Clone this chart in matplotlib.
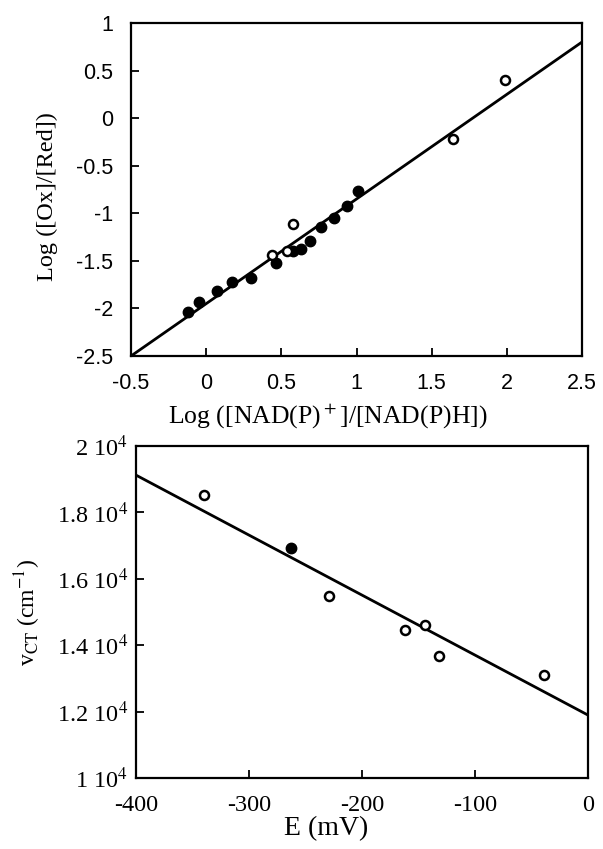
import matplotlib
matplotlib.use("Agg")
import matplotlib.pyplot as plt
import numpy as np

plt.rcParams['mathtext.fontset'] = 'stix'

# ---- Top panel data ----
top_filled_x = [-0.12, -0.045, 0.075, 0.17, 0.30, 0.465, 0.575, 0.63, 0.69, 0.765, 0.85, 0.935, 1.01]
top_filled_y = [-2.04, -1.93, -1.815, -1.725, -1.68, -1.52, -1.40, -1.38, -1.29, -1.14, -1.045, -0.925, -0.77]
top_open_x = [0.44, 0.535, 0.58, 1.645, 1.985]
top_open_y = [-1.435, -1.40, -1.11, -0.22, 0.40]
top_fit_slope = 1.1
top_fit_intercept = -1.95
top_xticks = [-0.5, 0, 0.5, 1, 1.5, 2, 2.5]
top_xticklabels = ['-0.5', '0', '0.5', '1', '1.5', '2', '2.5']
top_yticks = [-2.5, -2, -1.5, -1, -0.5, 0, 0.5, 1]
top_yticklabels = ['-2.5', '-2', '-1.5', '-1', '-0.5', '0', '0.5', '1']

# ---- Bottom panel data ----
bot_open_x = [-340, -229, -162, -144, -132, -39]
bot_open_y = [18510, 15470, 14460, 14600, 13670, 13090]
bot_filled_x = [-263]
bot_filled_y = [16920]
bot_fit_slope = -18.07
bot_fit_intercept = 11895
bot_xticks = [-400, -300, -200, -100, 0]
bot_xticklabels = ['-400', '-300', '-200', '-100', '0']
bot_yticks = [10000, 12000, 14000, 16000, 18000, 20000]
bot_yticklabels = [r'1 10$^4$', r'1.2 10$^4$', r'1.4 10$^4$', r'1.6 10$^4$', r'1.8 10$^4$', r'2 10$^4$']

fig = plt.figure(figsize=(6.03, 8.49), dpi=100)

serif = 'Liberation Serif'
sans = 'Liberation Sans'

def style(ax):
    for s in ax.spines.values():
        s.set_linewidth(1.6)
    ax.tick_params(direction='in', length=6, width=1.3, top=False, right=False)

# Top
ax1 = fig.add_axes([131/603, 1-356/849, (582-131)/603, (356-23)/849])
xl = np.array([-0.5, 2.5])
ax1.plot(xl, top_fit_slope*xl + top_fit_intercept, color='black', lw=2.0, zorder=2)
ax1.plot(top_filled_x, top_filled_y, 'o', color='black', ms=7.5, zorder=3)
ax1.plot(top_open_x, top_open_y, 'o', mfc='white', mec='black', mew=1.8, ms=6.5, zorder=4)
ax1.set_xlim(-0.5, 2.5)
ax1.set_ylim(-2.5, 1)
ax1.set_xticks(top_xticks)
ax1.set_xticklabels(top_xticklabels, fontfamily=sans, fontsize=15.5)
ax1.set_yticks(top_yticks)
ax1.set_yticklabels(top_yticklabels, fontfamily=sans, fontsize=15.5)
style(ax1)
ax1.tick_params(axis='x', pad=12)
ax1.tick_params(axis='y', pad=13)
ax1.set_xlabel(r'Log ([NAD(P)$^+$]/[NAD(P)H])', fontfamily=serif, fontsize=18.5)
ax1.xaxis.set_label_coords(0.437, -0.135)
ax1.set_ylabel('Log ([Ox]/[Red])', fontfamily=serif, fontsize=17.5)
ax1.yaxis.set_label_coords(-0.162, 0.48)

# Bottom
ax2 = fig.add_axes([136/603, 1-778/849, (588-136)/603, (778-446)/849])
xl2 = np.array([-400, 0])
ax2.plot(xl2, bot_fit_slope*xl2 + bot_fit_intercept, color='black', lw=2.0, zorder=2)
ax2.plot(bot_filled_x, bot_filled_y, 'o', color='black', ms=7.5, zorder=3)
ax2.plot(bot_open_x, bot_open_y, 'o', mfc='white', mec='black', mew=1.8, ms=6.5, zorder=4)
ax2.set_xlim(-400, 0)
ax2.set_ylim(10000, 20000)
ax2.set_xticks(bot_xticks)
ax2.set_xticklabels(bot_xticklabels, fontfamily=serif, fontsize=17.5)
ax2.set_yticks(bot_yticks)
ax2.set_yticklabels(bot_yticklabels, fontfamily=serif, fontsize=17.5)
style(ax2)
ax2.tick_params(axis='x', pad=12)
ax2.tick_params(axis='y', pad=6)
ax2.set_xlabel('E (mV)', fontfamily=serif, fontsize=20)
ax2.xaxis.set_label_coords(0.42, -0.115)
ax2.set_ylabel(r'v$_{\rm CT}$ (cm$^{-1}$)', fontfamily=serif, fontsize=17)
ax2.yaxis.set_label_coords(-0.205, 0.5)

fig.savefig('out.png', dpi=100)
